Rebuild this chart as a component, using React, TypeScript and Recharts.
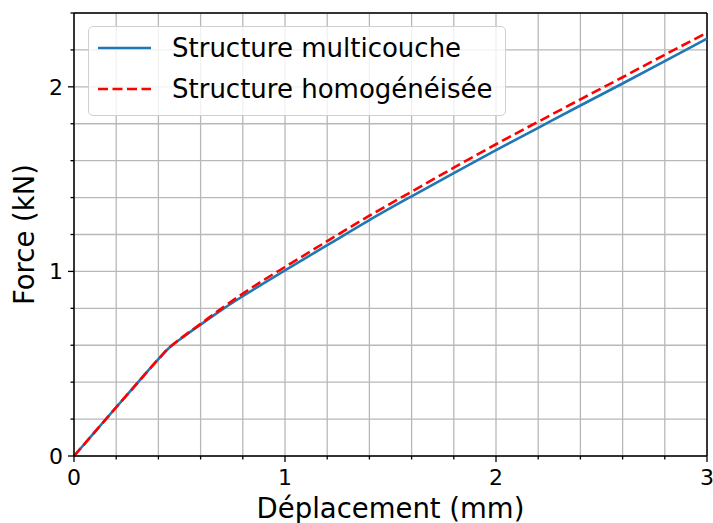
import { LineChart, Line, XAxis, YAxis, CartesianGrid, Legend, ReferenceLine, Label } from 'recharts';

// Déplacement (mm)
const deplacement = [0, 0.1, 0.2, 0.3, 0.4, 0.45, 0.5, 0.6, 0.7, 0.8, 0.9, 1.0, 1.2, 1.4, 1.6, 1.8, 2.0, 2.2, 2.4, 2.6, 2.8, 3.0];
// Force (kN)
const multicouche = [0, 0.132, 0.264, 0.395, 0.525, 0.585, 0.630, 0.712, 0.792, 0.866, 0.937, 1.006, 1.142, 1.278, 1.407, 1.533, 1.657, 1.778, 1.899, 2.018, 2.139, 2.261];
const homogeneisee = [0, 0.132, 0.264, 0.395, 0.525, 0.586, 0.632, 0.716, 0.800, 0.880, 0.954, 1.024, 1.164, 1.302, 1.432, 1.562, 1.689, 1.811, 1.932, 2.052, 2.174, 2.293];

const xTicks = [0, 0.2, 0.4, 0.6, 0.8, 1, 1.2, 1.4, 1.6, 1.8, 2, 2.2, 2.4, 2.6, 2.8, 3];
const yTicks = [0, 0.2, 0.4, 0.6, 0.8, 1, 1.2, 1.4, 1.6, 1.8, 2, 2.2, 2.4];

const series = [
    { key: 'multicouche', name: 'Structure multicouche', color: '#1f77b4', dash: undefined },
    { key: 'homogeneisee', name: 'Structure homogénéisée', color: '#ff0000', dash: '10 4.5' },
];

const data = deplacement.map((x, i) => ({ x, multicouche: multicouche[i], homogeneisee: homogeneisee[i] }));

const FONT = '"DejaVu Sans", sans-serif';
const isMajor = (v: number) => Math.abs(v - Math.round(v)) < 1e-6;

function XTick(props: any) {
    const { x, y, payload } = props;
    const major = isMajor(payload.value);
    return (
        <g>
            <line x1={x} x2={x} y1={y} y2={y + (major ? 6 : 3.5)} stroke="#000" strokeWidth={1.3} />
            {major && (
                <text x={x} y={y + 29} textAnchor="middle" fontSize={22} fill="#000" fontFamily={FONT}>
                    {Math.round(payload.value)}
                </text>
            )}
        </g>
    );
}

function YTick(props: any) {
    const { x, y, payload } = props;
    const major = isMajor(payload.value);
    return (
        <g>
            <line x1={x} x2={x - (major ? 6 : 3.5)} y1={y} y2={y} stroke="#000" strokeWidth={1.3} />
            {major && (
                <text x={x - 11} y={y + 8} textAnchor="end" fontSize={22} fill="#000" fontFamily={FONT}>
                    {Math.round(payload.value)}
                </text>
            )}
        </g>
    );
}

function LegendBox() {
    return (
        <div
            style={{
                position: 'relative',
                width: 418,
                height: 90,
                boxSizing: 'border-box',
                border: '1px solid #d0d0d0',
                borderRadius: 5,
                background: 'rgba(255,255,255,0.8)',
                fontFamily: FONT,
                fontSize: 26,
                color: '#000',
            }}
        >
            {series.map((s, i) => (
                <div key={s.key} style={{ position: 'absolute', left: 0, top: 21 + 41 * i - 20, height: 40, width: '100%' }}>
                    <svg width={70} height={40} style={{ position: 'absolute', left: 0, top: 0 }}>
                        <line x1={9} x2={62} y1={20} y2={20} stroke={s.color} strokeWidth={2.6} strokeDasharray={s.dash} />
                    </svg>
                    <span style={{ position: 'absolute', left: 83, top: 3, lineHeight: '34px', whiteSpace: 'nowrap' }}>{s.name}</span>
                </div>
            ))}
        </div>
    );
}

export default function App() {
    return (
        <div style={{ position: 'absolute', left: 0, top: 0, background: '#fff' }}>
            <LineChart width={713} height={523} data={data} margin={{ top: 13, right: 6, bottom: 0, left: 0 }} style={{ fontFamily: FONT }}>
                <CartesianGrid stroke="#b8b8b8" strokeWidth={1.3} />
                <XAxis
                    type="number"
                    dataKey="x"
                    domain={[0, 3]}
                    ticks={xTicks}
                    interval={0}
                    height={67}
                    tickSize={0}
                    tickMargin={0}
                    tickLine={false}
                    tick={<XTick />}
                    axisLine={{ stroke: '#000', strokeWidth: 1.5 }}
                >
                    <Label
                        content={(p: any) => (
                            <text x={p.viewBox.x + p.viewBox.width / 2} y={p.viewBox.y + 62} textAnchor="middle" fontSize={27.5} fill="#000" fontFamily={FONT}>
                                Déplacement (mm)
                            </text>
                        )}
                    />
                </XAxis>
                <YAxis
                    type="number"
                    domain={[0, 2.4]}
                    ticks={yTicks}
                    interval={0}
                    width={74}
                    tickSize={0}
                    tickMargin={0}
                    tickLine={false}
                    tick={<YTick />}
                    axisLine={{ stroke: '#000', strokeWidth: 1.5 }}
                >
                    <Label
                        content={(p: any) => {
                            const cx = 34;
                            const cy = p.viewBox.y + p.viewBox.height / 2;
                            return (
                                <text x={cx} y={cy} transform={`rotate(-90 ${cx} ${cy})`} textAnchor="middle" fontSize={27.5} fill="#000" fontFamily={FONT}>
                                    Force (kN)
                                </text>
                            );
                        }}
                    />
                </YAxis>
                <ReferenceLine y={2.4} stroke="#000" strokeWidth={1.5} />
                <ReferenceLine x={3} stroke="#000" strokeWidth={1.5} />
                {series.map((s) => (
                    <Line
                        key={s.key}
                        type="monotone"
                        dataKey={s.key}
                        name={s.name}
                        stroke={s.color}
                        strokeWidth={2.6}
                        strokeDasharray={s.dash}
                        dot={false}
                        isAnimationActive={false}
                    />
                ))}
                <Legend
                    layout="horizontal"
                    verticalAlign="middle"
                    align="center"
                    wrapperStyle={{ left: 88, top: 26, width: 'auto', height: 'auto' }}
                    content={() => <LegendBox />}
                />
            </LineChart>
        </div>
    );
}
